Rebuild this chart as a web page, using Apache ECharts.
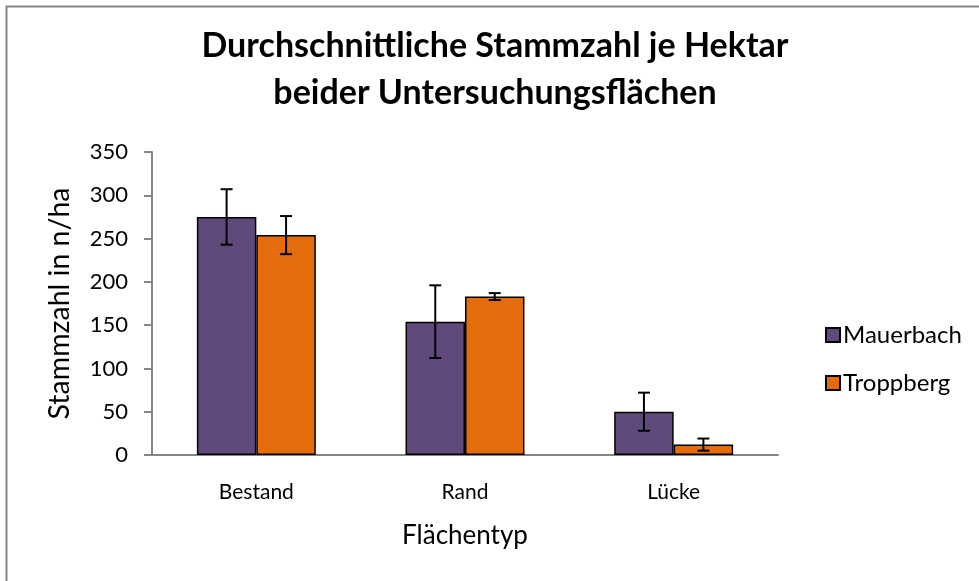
<!DOCTYPE html>
<html>
<head>
<meta charset="utf-8">
<script src="https://cdn.jsdelivr.net/npm/echarts@6/dist/echarts.min.js"></script>
<style>
  html, body { margin: 0; padding: 0; background: #fff; }
  #chart { width: 979px; height: 581px; }
</style>
</head>
<body>
<div id="chart"></div>
<script>
const categories = ['Bestand', 'Rand', 'Lücke'];
const seriesNames = ['Mauerbach', 'Troppberg'];
const mauerbach = [275, 154, 50];
const troppberg = [254, 183, 12];
const mauerbachErr = [32, 42, 22];
const troppbergErr = [22, 4, 7];
const yTicks = [0, 50, 100, 150, 200, 250, 300, 350];

const FONT = 'Lato, "Open Sans", sans-serif';
const CAT_GAP = 0.43;

function errorSeries(values, errs, side) {
  return {
    type: 'custom',
    silent: true,
    z: 5,
    data: values.map((v, i) => [i, v, errs[i]]),
    renderItem: function (params, api) {
      const idx = api.value(0);
      const val = api.value(1);
      const err = api.value(2);
      const band = api.size([1, 0])[0];
      const barW = band * (1 - CAT_GAP) / 2;
      const top = api.coord([idx, val + err]);
      const bot = api.coord([idx, val - err]);
      const x = top[0] + side * barW / 2;
      const cap = 6;
      const style = { stroke: '#000', lineWidth: 2 };
      return {
        type: 'group',
        children: [
          { type: 'line', shape: { x1: x, y1: top[1], x2: x, y2: bot[1] }, style: style },
          { type: 'line', shape: { x1: x - cap, y1: top[1], x2: x + cap, y2: top[1] }, style: style },
          { type: 'line', shape: { x1: x - cap, y1: bot[1], x2: x + cap, y2: bot[1] }, style: style }
        ]
      };
    }
  };
}

const myChart = echarts.init(document.getElementById('chart'), null, { renderer: 'canvas' });

const option = {
  animation: false,
  backgroundColor: '#fff',
  textStyle: { fontFamily: FONT, color: '#000' },
  graphic: [{
    type: 'rect',
    shape: { x: 6.5, y: 6.5, width: 1200, height: 1200 },
    style: { fill: 'none', stroke: '#868686', lineWidth: 2 },
    silent: true
  }],
  title: {
    text: 'Durchschnittliche Stammzahl je Hektar\nbeider Untersuchungsflächen',
    left: 490,
    textAlign: 'center',
    top: 18,
    textStyle: { fontFamily: FONT, fontSize: 34, fontWeight: 'bold', color: '#000', lineHeight: 47 }
  },
  legend: {
    data: seriesNames,
    orient: 'vertical',
    left: 820,
    top: 318,
    itemWidth: 14,
    itemHeight: 14,
    itemGap: 24,
    icon: 'rect',
    textStyle: { fontFamily: FONT, fontSize: 24, lineHeight: 24, color: '#000', padding: [0, 0, 0, -2] }
  },
  grid: { left: 152, right: 201, top: 152, bottom: 126, containLabel: false },
  xAxis: {
    type: 'category',
    data: categories,
    name: 'Flächentyp',
    nameLocation: 'middle',
    nameGap: 68,
    nameTextStyle: { fontFamily: FONT, fontSize: 26, color: '#000' },
    axisLine: { lineStyle: { color: '#868686', width: 2 } },
    axisTick: { length: 8, lineStyle: { color: '#868686', width: 2 } },
    axisLabel: { fontFamily: FONT, fontSize: 21, color: '#000', margin: 27 }
  },
  yAxis: {
    type: 'value',
    min: yTicks[0],
    max: yTicks[yTicks.length - 1],
    interval: 50,
    name: 'Stammzahl in n/ha',
    nameLocation: 'middle',
    nameGap: 78,
    nameTextStyle: { fontFamily: FONT, fontSize: 28.5, color: '#000' },
    axisLine: { show: true, lineStyle: { color: '#868686', width: 2 } },
    axisTick: { show: true, length: 8, lineStyle: { color: '#868686', width: 2 } },
    axisLabel: { fontFamily: FONT, fontSize: 22, color: '#000', margin: 24 },
    splitLine: { show: false }
  },
  series: [
    {
      name: seriesNames[0],
      type: 'bar',
      data: mauerbach,
      barGap: '0%',
      barCategoryGap: (CAT_GAP * 100) + '%',
      itemStyle: { color: '#604A7B', borderColor: '#000', borderWidth: 1.5 }
    },
    {
      name: seriesNames[1],
      type: 'bar',
      data: troppberg,
      barGap: '0%',
      barCategoryGap: (CAT_GAP * 100) + '%',
      itemStyle: { color: '#E46C0A', borderColor: '#000', borderWidth: 1.5 }
    },
    errorSeries(mauerbach, mauerbachErr, -1),
    errorSeries(troppberg, troppbergErr, 1)
  ]
};

myChart.setOption(option);
</script>
</body>
</html>
